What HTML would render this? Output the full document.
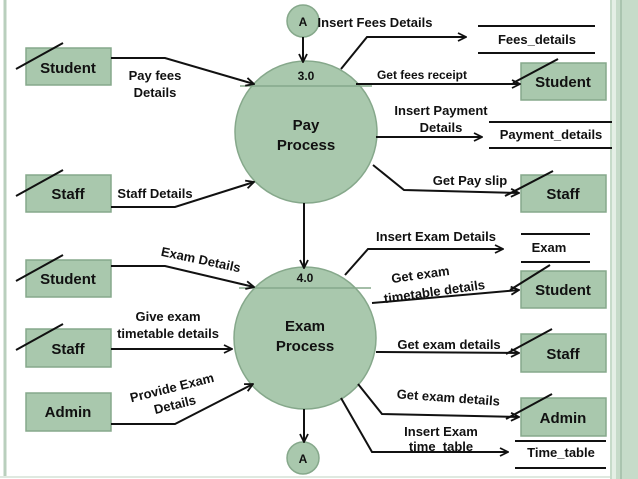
<!DOCTYPE html>
<html><head><style>
body{margin:0;background:#fff;}
svg{display:block;font-family:"Liberation Sans",sans-serif;font-weight:bold;}
</style></head><body>
<svg width="638" height="479" viewBox="0 0 638 479">
<defs><marker id="a" markerWidth="10" markerHeight="10" refX="9" refY="5" orient="auto" markerUnits="userSpaceOnUse"><path d="M1,1 L9,5 L1,9" fill="none" stroke="#111" stroke-width="1.8"/></marker></defs>
<rect x="0" y="0" width="638" height="479" fill="#fff"/>
<line x1="5" y1="0" x2="5" y2="477" stroke="#b9cfbd" stroke-width="3"/>
<line x1="0" y1="477" x2="610" y2="477" stroke="#dfe9e0" stroke-width="2"/>
<rect x="610" y="0" width="28" height="479" fill="#c6dbc9"/>
<rect x="612" y="0" width="4" height="479" fill="#e4efe5"/>
<line x1="621" y1="0" x2="621" y2="479" stroke="#8fae95" stroke-width="1"/>
<g fill="#a9c8ad" stroke="#86a88b" stroke-width="1.5">
<circle cx="306" cy="132" r="71"/>
<circle cx="305" cy="338" r="71"/>
<circle cx="303" cy="21" r="16"/>
<circle cx="303" cy="458" r="16"/>
<rect x="26" y="48" width="85" height="37"/>
<rect x="26" y="175" width="85" height="37"/>
<rect x="26" y="260" width="85" height="37"/>
<rect x="26" y="329" width="85" height="38"/>
<rect x="26" y="393" width="85" height="38"/>
<rect x="521" y="63" width="85" height="37"/>
<rect x="521" y="175" width="85" height="37"/>
<rect x="521" y="271" width="85" height="37"/>
<rect x="521" y="334" width="85" height="38"/>
<rect x="521" y="398" width="85" height="38"/>
</g>
<g stroke="#86a88b" stroke-width="1.5">
<line x1="240" y1="86" x2="372" y2="86"/>
<line x1="239" y1="288" x2="371" y2="288"/>
</g>
<g stroke="#111" stroke-width="2" fill="none">
<line x1="16" y1="69" x2="63" y2="43"/>
<line x1="16" y1="196" x2="63" y2="170"/>
<line x1="16" y1="281" x2="63" y2="255"/>
<line x1="16" y1="350" x2="63" y2="324"/>
<line x1="513" y1="83" x2="558" y2="59"/>
<line x1="505" y1="196" x2="553" y2="171"/>
<line x1="510" y1="290" x2="550" y2="265"/>
<line x1="506" y1="354" x2="552" y2="329"/>
<line x1="506" y1="419" x2="552" y2="394"/>
<line x1="478" y1="26" x2="595" y2="26"/><line x1="478" y1="53" x2="595" y2="53"/>
<line x1="489" y1="122" x2="612" y2="122"/><line x1="489" y1="148" x2="612" y2="148"/>
<line x1="521" y1="234" x2="590" y2="234"/><line x1="521" y1="262" x2="590" y2="262"/>
<line x1="515" y1="441" x2="606" y2="441"/><line x1="515" y1="468" x2="606" y2="468"/>
</g>
<g stroke="#111" stroke-width="2" fill="none" marker-end="url(#a)">
<line x1="303" y1="37" x2="303" y2="62"/>
<line x1="304" y1="203" x2="304" y2="268"/>
<line x1="304" y1="409" x2="304" y2="442"/>
<polyline points="111,58 165,58 254,84"/>
<polyline points="111,207 175,207 254,182"/>
<polyline points="111,266 165,266 254,287"/>
<line x1="111" y1="349" x2="232" y2="349"/>
<polyline points="111,424 175,424 253,384"/>
<polyline points="341,69 367,37 466,37"/>
<line x1="356" y1="84" x2="520" y2="84"/>
<line x1="376" y1="137" x2="482" y2="137"/>
<polyline points="373,165 404,190 519,193"/>
<polyline points="345,275 368,249 503,249"/>
<line x1="372" y1="303" x2="519" y2="290"/>
<line x1="376" y1="352" x2="519" y2="353"/>
<polyline points="358,384 382,414 519,417"/>
<polyline points="341,398 372,452 508,452"/>
</g>
<g fill="#111" font-size="15" text-anchor="middle">
<text x="303" y="26" font-size="12">A</text>
<text x="303" y="463" font-size="12">A</text>
<text x="306" y="80" font-size="12">3.0</text>
<text x="305" y="282" font-size="12">4.0</text>
<text x="306" y="130">Pay</text><text x="306" y="150">Process</text>
<text x="305" y="331">Exam</text><text x="305" y="351">Process</text>
<text x="68" y="73">Student</text>
<text x="68" y="199">Staff</text>
<text x="68" y="284">Student</text>
<text x="68" y="354">Staff</text>
<text x="68" y="417">Admin</text>
<text x="563" y="87">Student</text>
<text x="563" y="199">Staff</text>
<text x="563" y="295">Student</text>
<text x="563" y="359">Staff</text>
<text x="563" y="423">Admin</text>
<g font-size="13">
<text x="155" y="80">Pay fees</text><text x="155" y="97">Details</text>
<text x="155" y="198">Staff Details</text>
<text x="168" y="321">Give exam</text><text x="168" y="338">timetable details</text>
<text x="375" y="27">Insert Fees Details</text>
<text x="537" y="44">Fees_details</text>
<text x="422" y="79" font-size="12">Get fees receipt</text>
<text x="441" y="115">Insert Payment</text><text x="441" y="132">Details</text>
<text x="551" y="139">Payment_details</text>
<text x="470" y="185">Get Pay slip</text>
<text x="436" y="241">Insert Exam Details</text>
<text x="549" y="252">Exam</text>
<text x="449" y="349">Get exam details</text>
<text x="441" y="436">Insert Exam</text><text x="441" y="451">time_table</text>
<text x="561" y="457">Time_table</text>
<text x="200" y="264" transform="rotate(12 200 264)">Exam Details</text>
<text x="173" y="392" transform="rotate(-14 173 392)">Provide Exam</text>
<text x="176" y="409" transform="rotate(-14 176 409)">Details</text>
<text x="421" y="279" transform="rotate(-8 421 279)">Get exam</text>
<text x="435" y="296" transform="rotate(-8 435 296)">timetable details</text>
<text x="448" y="402" transform="rotate(4 448 402)">Get exam details</text>
</g>
</g>
</svg>
</body></html>
